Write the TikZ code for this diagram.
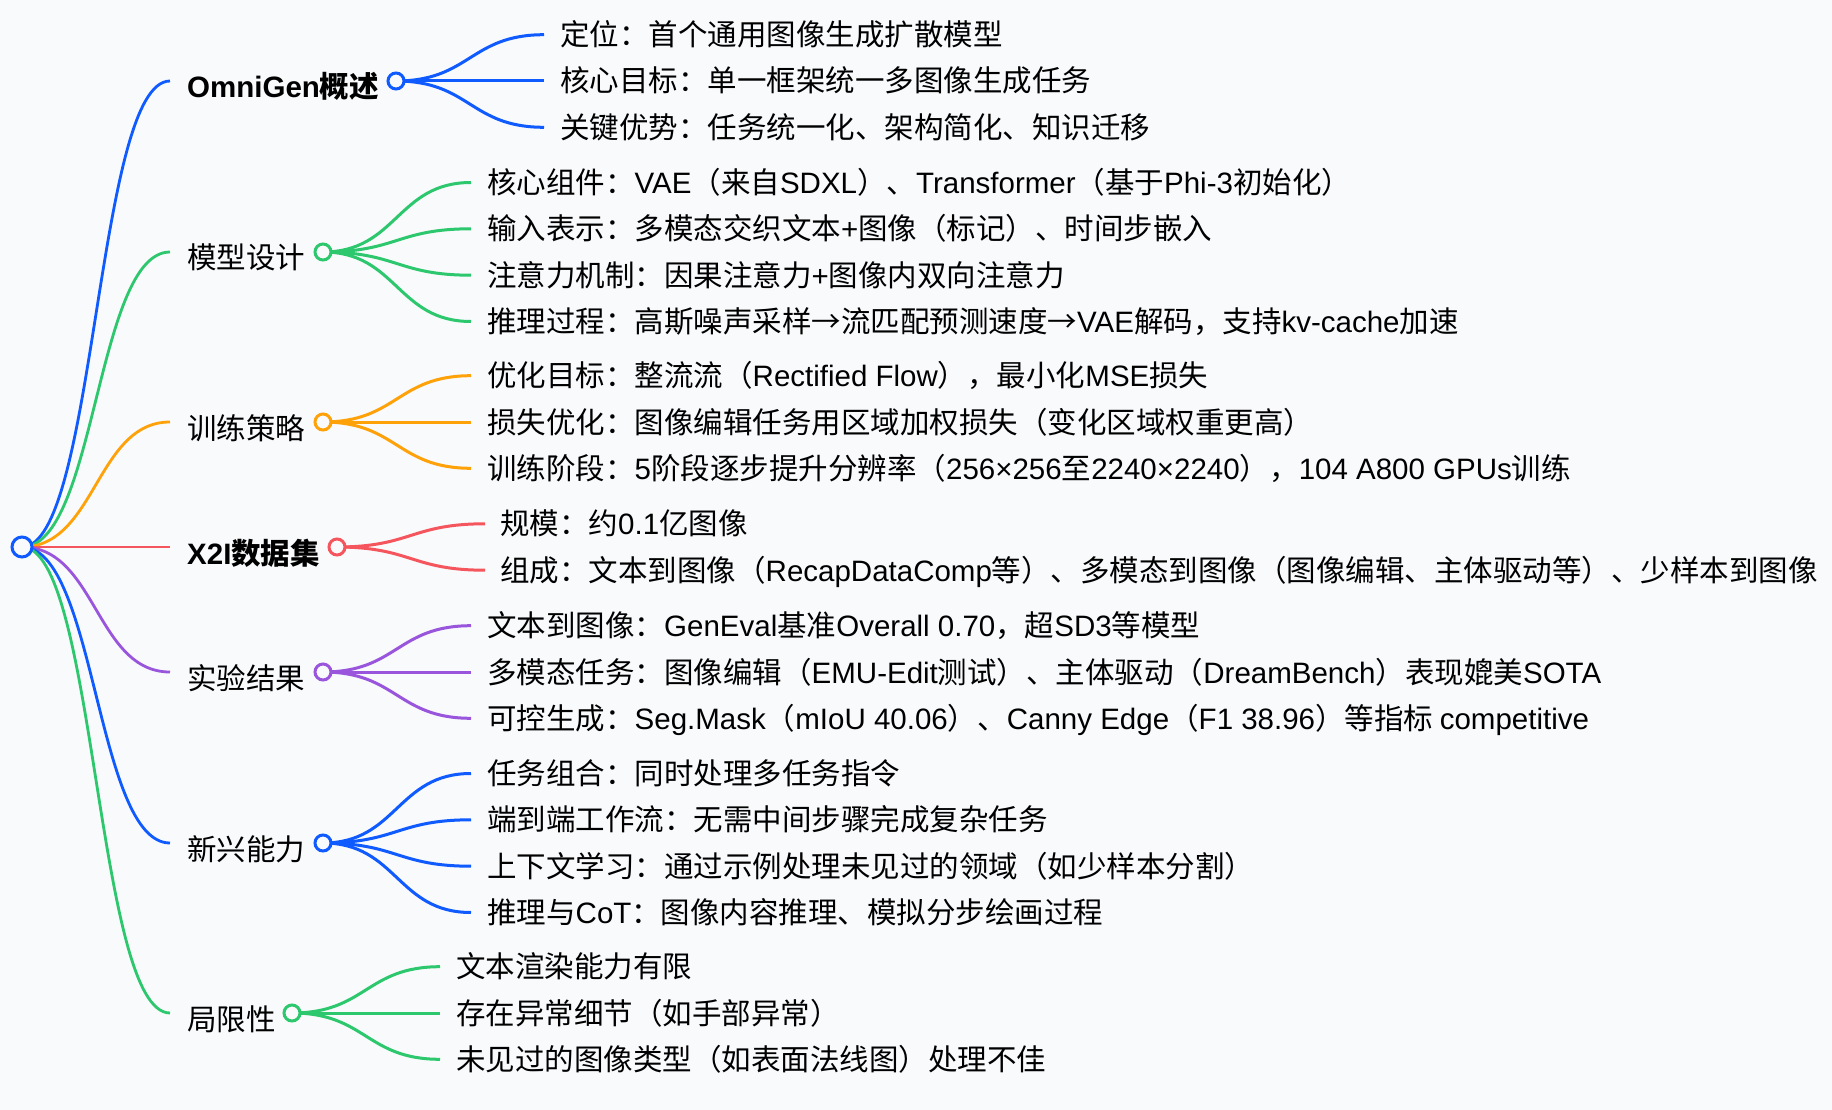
\documentclass[tikz,border=0pt]{standalone}
\usepackage{fontspec}
\setmainfont{Liberation Sans}
\newfontfamily\cjkfont{Noto Sans CJK SC}
\XeTeXinterchartokenstate=1
\newXeTeXintercharclass\cjkclass
\newcount\cjkcode
\cjkcode="3000
\loop
	\XeTeXcharclass\cjkcode=\cjkclass
	\advance\cjkcode by 1
\ifnum\cjkcode<"A000 \repeat
\cjkcode="FF00
\loop
	\XeTeXcharclass\cjkcode=\cjkclass
	\advance\cjkcode by 1
\ifnum\cjkcode<"FFF0 \repeat
\XeTeXcharclass"2192=\cjkclass
\XeTeXinterchartoks 0 \cjkclass={\cjkfont}
\XeTeXinterchartoks 4095 \cjkclass={\cjkfont}
\XeTeXinterchartoks \cjkclass 0={\rmfamily}
\XeTeXinterchartoks 4095 0={\rmfamily}
\usepackage{tikz}
\usetikzlibrary{backgrounds}
\definecolor{bg}{HTML}{F8FAFC}
\definecolor{cblue}{HTML}{0F5BFF}
\definecolor{cgreen}{HTML}{2DC76D}
\definecolor{corange}{HTML}{FFA20A}
\definecolor{cred}{HTML}{F5555D}
\definecolor{cpurple}{HTML}{9A55DD}

\begin{document}
\begin{tikzpicture}[x=1pt,y=-1pt,
	every node/.style={font=\fontsize{29.5}{35}\selectfont},
	dot/.style={circle,draw=#1,line width=3pt,fill=bg,inner sep=0pt,minimum size=16pt},
	trunk/.style={line width=2.8pt},
	twig/.style={line width=3pt},
	item/.style={anchor=west,inner sep=0pt,text height=26pt,text depth=4pt}]
	\begin{scope}[on background layer]
		\fill[bg] (0,0) rectangle (1832,1110);
	\end{scope}
	\useasboundingbox (0,0) rectangle (1832,1110);
	\node[dot=cblue,minimum size=20pt] (root) at (22,547) {};

	\node[dot=cblue] (om) at (396,81) {};
	\coordinate (om-s) at (170,81);
	\node[item] (om-t) at (187,87) {\bfseries OmniGen概述};
	\foreach \y/\t [count=\k] in {34.7/定位：首个通用图像生成扩散模型,
		81/核心目标：单一框架统一多图像生成任务,
		127.3/关键优势：任务统一化、架构简化、知识迁移}{
		\coordinate (om-e\k) at (544,\y);
		\node[item] (om-\k) at (560,\y) {\t};
		\begin{scope}[on background layer]
			\draw[twig,cblue] (om.center) .. controls +(74,0) and +(-74,0) .. (om-e\k);
		\end{scope}
	}

	\node[dot=cgreen] (md) at (323,252) {};
	\coordinate (md-s) at (170,252);
	\node[item] (md-t) at (187,258) {模型设计};
	\foreach \y/\t [count=\k] in {182.5/核心组件：VAE（来自SDXL）、Transformer（基于Phi-3初始化）,
		228.8/输入表示：多模态交织文本+图像（标记）、时间步嵌入,
		275.2/注意力机制：因果注意力+图像内双向注意力,
		321.5/推理过程：高斯噪声采样→流匹配预测速度→VAE解码，支持kv-cache加速}{
		\coordinate (md-e\k) at (471,\y);
		\node[item] (md-\k) at (487,\y) {\t};
		\begin{scope}[on background layer]
			\draw[twig,cgreen] (md.center) .. controls +(74,0) and +(-74,0) .. (md-e\k);
		\end{scope}
	}

	\node[dot=corange] (tr) at (323,422) {};
	\coordinate (tr-s) at (170,422);
	\node[item] (tr-t) at (187,428) {训练策略};
	\foreach \y/\t [count=\k] in {375.7/优化目标：整流流（Rectified Flow），最小化MSE损失,
		422/损失优化：图像编辑任务用区域加权损失（变化区域权重更高）,
		468.3/训练阶段：5阶段逐步提升分辨率（256×256至2240×2240），104 A800 GPUs训练}{
		\coordinate (tr-e\k) at (471,\y);
		\node[item] (tr-\k) at (487,\y) {\t};
		\begin{scope}[on background layer]
			\draw[twig,corange] (tr.center) .. controls +(74,0) and +(-74,0) .. (tr-e\k);
		\end{scope}
	}

	\node[dot=cred] (ds) at (337,547) {};
	\coordinate (ds-s) at (170,547);
	\node[item] (ds-t) at (187,553) {\bfseries X2I数据集};
	\foreach \y/\t [count=\k] in {523.8/规模：约0.1亿图像,
		570.2/组成：文本到图像（RecapDataComp等）、多模态到图像（图像编辑、主体驱动等）、少样本到图像}{
		\coordinate (ds-e\k) at (485,\y);
		\node[item] (ds-\k) at (500,\y) {\t};
		\begin{scope}[on background layer]
			\draw[twig,cred] (ds.center) .. controls +(74,0) and +(-74,0) .. (ds-e\k);
		\end{scope}
	}

	\node[dot=cpurple] (ex) at (323,672) {};
	\coordinate (ex-s) at (170,672);
	\node[item] (ex-t) at (187,678) {实验结果};
	\foreach \y/\t [count=\k] in {625.7/文本到图像：GenEval基准Overall 0.70，超SD3等模型,
		672/多模态任务：图像编辑（EMU-Edit测试）、主体驱动（DreamBench）表现媲美SOTA,
		718.3/可控生成：Seg.Mask（mIoU 40.06）、Canny Edge（F1 38.96）等指标 competitive}{
		\coordinate (ex-e\k) at (471,\y);
		\node[item] (ex-\k) at (487,\y) {\t};
		\begin{scope}[on background layer]
			\draw[twig,cpurple] (ex.center) .. controls +(74,0) and +(-74,0) .. (ex-e\k);
		\end{scope}
	}

	\node[dot=cblue] (em) at (323,843) {};
	\coordinate (em-s) at (170,843);
	\node[item] (em-t) at (187,849) {新兴能力};
	\foreach \y/\t [count=\k] in {773.5/任务组合：同时处理多任务指令,
		819.8/端到端工作流：无需中间步骤完成复杂任务,
		866.2/上下文学习：通过示例处理未见过的领域（如少样本分割）,
		912.5/推理与CoT：图像内容推理、模拟分步绘画过程}{
		\coordinate (em-e\k) at (471,\y);
		\node[item] (em-\k) at (487,\y) {\t};
		\begin{scope}[on background layer]
			\draw[twig,cblue] (em.center) .. controls +(74,0) and +(-74,0) .. (em-e\k);
		\end{scope}
	}

	\node[dot=cgreen] (lm) at (292,1013) {};
	\coordinate (lm-s) at (170,1013);
	\node[item] (lm-t) at (187,1019) {局限性};
	\foreach \y/\t [count=\k] in {966.7/文本渲染能力有限,
		1013/存在异常细节（如手部异常）,
		1059.3/未见过的图像类型（如表面法线图）处理不佳}{
		\coordinate (lm-e\k) at (440,\y);
		\node[item] (lm-\k) at (456,\y) {\t};
		\begin{scope}[on background layer]
			\draw[twig,cgreen] (lm.center) .. controls +(74,0) and +(-74,0) .. (lm-e\k);
		\end{scope}
	}

	\begin{scope}[on background layer]
		\draw[trunk,cblue] (root.center) .. controls +(74,0) and +(-74,0) .. (om-s);
		\draw[trunk,cgreen] (root.center) .. controls +(74,0) and +(-74,0) .. (md-s);
		\draw[trunk,corange] (root.center) .. controls +(74,0) and +(-74,0) .. (tr-s);
		\draw[trunk,cred] (root.center) .. controls +(74,0) and +(-74,0) .. (ds-s);
		\draw[trunk,cpurple] (root.center) .. controls +(74,0) and +(-74,0) .. (ex-s);
		\draw[trunk,cblue] (root.center) .. controls +(74,0) and +(-74,0) .. (em-s);
		\draw[trunk,cgreen] (root.center) .. controls +(74,0) and +(-74,0) .. (lm-s);
	\end{scope}
\end{tikzpicture}
\end{document}
